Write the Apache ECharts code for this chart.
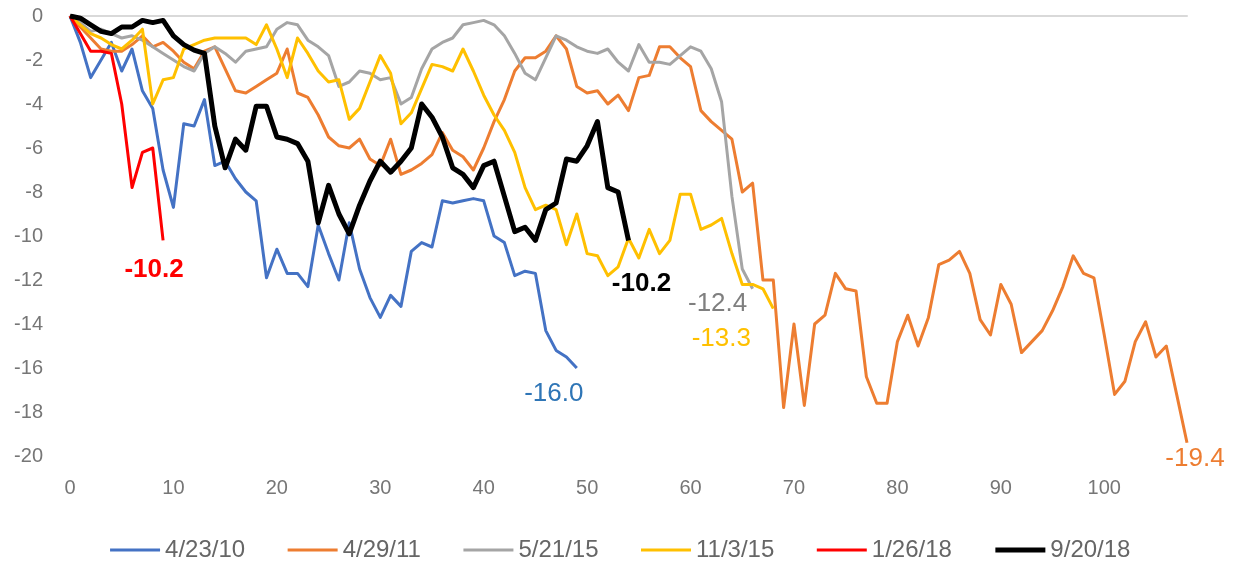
<!DOCTYPE html>
<html>
<head>
<meta charset="utf-8">
<script src="https://cdn.jsdelivr.net/npm/echarts@6/dist/echarts.min.js"></script>
<style>
html,body{margin:0;padding:0;background:#ffffff;}
#chart{width:1239px;height:563px;}
</style>
</head>
<body>
<div id="chart"></div>
<script>
// ---------------- data ----------------
const seriesNames = ['4/23/10', '4/29/11', '5/21/15', '11/3/15', '1/26/18', '9/20/18'];

const xTickLabels = [0, 10, 20, 30, 40, 50, 60, 70, 80, 90, 100];
const yTickLabels = [0, -2, -4, -6, -8, -10, -12, -14, -16, -18, -20];

const s_4_23_10 = [0, -1.2, -2.8, -2.0, -1.2, -2.5, -1.5, -3.4, -4.2, -7.0,
  -8.7, -4.9, -5.0, -3.8, -6.8, -6.6, -7.4, -8.0, -8.4, -11.9,
  -10.6, -11.7, -11.7, -12.3, -9.5, -10.8, -12.0, -9.4, -11.5, -12.8,
  -13.7, -12.7, -13.2, -10.7, -10.3, -10.5, -8.4, -8.5, -8.4, -8.3,
  -8.4, -10.0, -10.3, -11.8, -11.6, -11.7, -14.3, -15.2, -15.5, -16.0];

const s_4_29_11 = [0, -0.5, -1.0, -1.5, -1.6, -1.6, -1.3, -0.9, -1.4, -1.2,
  -1.6, -2.1, -2.4, -1.6, -1.4, -2.4, -3.4, -3.5, -3.2, -2.9,
  -2.6, -1.5, -3.5, -3.7, -4.5, -5.5, -5.9, -6.0, -5.6, -6.5,
  -6.8, -5.6, -7.2, -7.0, -6.7, -6.3, -5.3, -6.1, -6.4, -7.0,
  -6.0, -4.8, -3.8, -2.5, -1.9, -1.9, -1.6, -0.9, -1.5, -3.2,
  -3.5, -3.4, -4.0, -3.6, -4.3, -2.8, -2.7, -1.4, -1.4, -1.9,
  -2.3, -4.3, -4.8, -5.2, -5.6, -8.0, -7.6, -12.0, -12.0, -17.8,
  -14.0, -17.7, -14.0, -13.6, -11.7, -12.4, -12.5, -16.4, -17.6, -17.6,
  -14.8, -13.6, -15.0, -13.7, -11.3, -11.1, -10.7, -11.7, -13.8, -14.5,
  -12.2, -13.1, -15.3, -14.8, -14.3, -13.4, -12.3, -10.9, -11.7, -11.9,
  -14.5, -17.2, -16.6, -14.8, -13.9, -15.5, -15.0, -17.2, -19.4];

const s_5_21_15 = [0, -0.3, -0.7, -0.6, -0.8, -1.0, -0.9, -1.1, -1.4, -1.7,
  -2.0, -2.3, -2.5, -1.7, -1.4, -1.7, -2.1, -1.6, -1.5, -1.4,
  -0.6, -0.3, -0.4, -1.1, -1.4, -1.8, -3.2, -3.0, -2.5, -2.6,
  -2.9, -2.8, -4.0, -3.7, -2.4, -1.5, -1.2, -1.0, -0.4, -0.3,
  -0.2, -0.4, -0.9, -1.7, -2.6, -2.9, -1.9, -0.9, -1.1, -1.4,
  -1.6, -1.7, -1.5, -2.1, -2.5, -1.3, -2.1, -2.1, -2.2, -1.8,
  -1.4, -1.6, -2.4, -3.9, -8.2, -11.5, -12.4];

const s_11_3_15 = [0, -0.4, -0.8, -1.0, -1.3, -1.5, -1.1, -0.6, -4.0, -2.9,
  -2.8, -1.5, -1.3, -1.1, -1.0, -1.0, -1.0, -1.0, -1.3, -0.4,
  -1.5, -2.8, -1.0, -1.7, -2.5, -3.0, -2.9, -4.7, -4.2, -3.0,
  -1.8, -2.6, -4.9, -4.4, -3.3, -2.2, -2.3, -2.5, -1.5, -2.5,
  -3.6, -4.5, -5.2, -6.2, -7.8, -8.8, -8.6, -8.8, -10.4, -9.0,
  -10.8, -10.9, -11.8, -11.4, -10.1, -11.0, -9.7, -10.8, -10.2, -8.1,
  -8.1, -9.7, -9.5, -9.2, -10.8, -12.2, -12.2, -12.4, -13.3];

const s_1_26_18 = [0, -0.8, -1.6, -1.6, -1.7, -4.0, -7.8, -6.2, -6.0, -10.2];

const s_9_20_18 = [0, -0.1, -0.4, -0.7, -0.8, -0.5, -0.5, -0.2, -0.3, -0.2,
  -0.9, -1.3, -1.55, -1.7, -5.0, -6.9, -5.6, -6.1, -4.1, -4.1,
  -5.5, -5.6, -5.8, -6.6, -9.4, -7.7, -9.0, -9.9, -8.6, -7.5,
  -6.6, -7.1, -6.6, -6.0, -4.0, -4.6, -5.5, -6.9, -7.2, -7.8,
  -6.8, -6.6, -8.2, -9.8, -9.6, -10.2, -8.8, -8.5, -6.5, -6.6,
  -5.9, -4.8, -7.8, -8.0, -10.2];

// ---------------- styles ----------------
const FONT = 'Liberation Sans';
const AXIS_GRAY = '#767676';
const LEGEND_GRAY = '#666666';
const allSeries = [s_4_23_10, s_4_29_11, s_5_21_15, s_11_3_15, s_1_26_18, s_9_20_18];
const lineColors = ['#4472C4', '#ED7D31', '#A5A5A5', '#FFC000', '#FF0000', '#000000'];
const lineWidths = [3, 3, 3, 3, 3, 5];
const labelColors = ['#2E75B6', '#ED7D31', '#7F7F7F', '#FFC000', '#FF0000', '#000000'];
const labelWeights = ['normal', 'normal', 'normal', 'normal', 'bold', 'bold'];
const labelOffsets = [[-23, 26], [8, 16], [-35, 15], [-52, 30], [-9, 29], [13, 43]];

const series = allSeries.map((arr, k) => {
  const last = arr.length - 1;
  return {
    name: seriesNames[k],
    type: 'line',
    data: arr.map((v, i) => [i, v]),
    symbol: 'none',
    silent: true,
    z: 2 + k,
    lineStyle: { color: lineColors[k], width: lineWidths[k], join: 'round' },
    itemStyle: { color: lineColors[k] },
    emphasis: { disabled: true },
    markPoint: {
      silent: true,
      symbol: 'circle',
      symbolSize: 0,
      itemStyle: { color: 'rgba(0,0,0,0)' },
      label: {
        show: true,
        position: 'inside',
        offset: labelOffsets[k],
        color: labelColors[k],
        fontSize: 26,
        fontWeight: labelWeights[k],
        fontFamily: FONT,
        formatter: () => arr[last].toFixed(1)
      },
      data: [{ coord: [last, arr[last]] }]
    }
  };
});

const legendData = seriesNames.map((n, k) => ({
  name: n,
  lineStyle: { width: lineWidths[k], color: lineColors[k] },
  itemStyle: { color: 'rgba(0,0,0,0)', borderWidth: 0, opacity: 0 }
}));

const chart = echarts.init(document.getElementById('chart'), null, { renderer: 'canvas' });
chart.setOption({
  animation: false,
  backgroundColor: '#ffffff',
  grid: { left: 70, right: 52, top: 16, bottom: 107, containLabel: false },
  xAxis: [
    {
      type: 'value', min: 0, max: 108, interval: 10,
      axisLine: { show: false, onZero: false },
      axisTick: { show: false },
      splitLine: { show: false },
      axisLabel: {
        color: AXIS_GRAY, fontSize: 20, fontFamily: FONT, margin: 22,
        showMaxLabel: false,
        formatter: v => (xTickLabels.indexOf(v) >= 0 ? String(v) : '')
      }
    },
    {
      type: 'value', position: 'top', min: 0, max: 108,
      axisLine: { show: true, onZero: false, lineStyle: { color: '#D9D9D9', width: 2 } },
      axisTick: { show: false },
      axisLabel: { show: false },
      splitLine: { show: false }
    }
  ],
  yAxis: {
    type: 'value', min: -20, max: 0, interval: 2,
    axisLine: { show: false },
    axisTick: { show: false },
    splitLine: { show: false },
    axisLabel: {
      color: AXIS_GRAY, fontSize: 20, fontFamily: FONT, margin: 27,
      formatter: v => (yTickLabels.indexOf(v) >= 0 ? String(v) : '')
    }
  },
  legend: {
    data: legendData,
    top: 533,
    left: 'center',
    itemWidth: 50,
    itemHeight: 14,
    itemGap: 41,
    selectedMode: false,
    itemStyle: { color: 'rgba(0,0,0,0)', borderWidth: 0, opacity: 0 },
    textStyle: { color: LEGEND_GRAY, fontSize: 24, fontFamily: FONT }
  },
  series: series
});
</script>
</body>
</html>
